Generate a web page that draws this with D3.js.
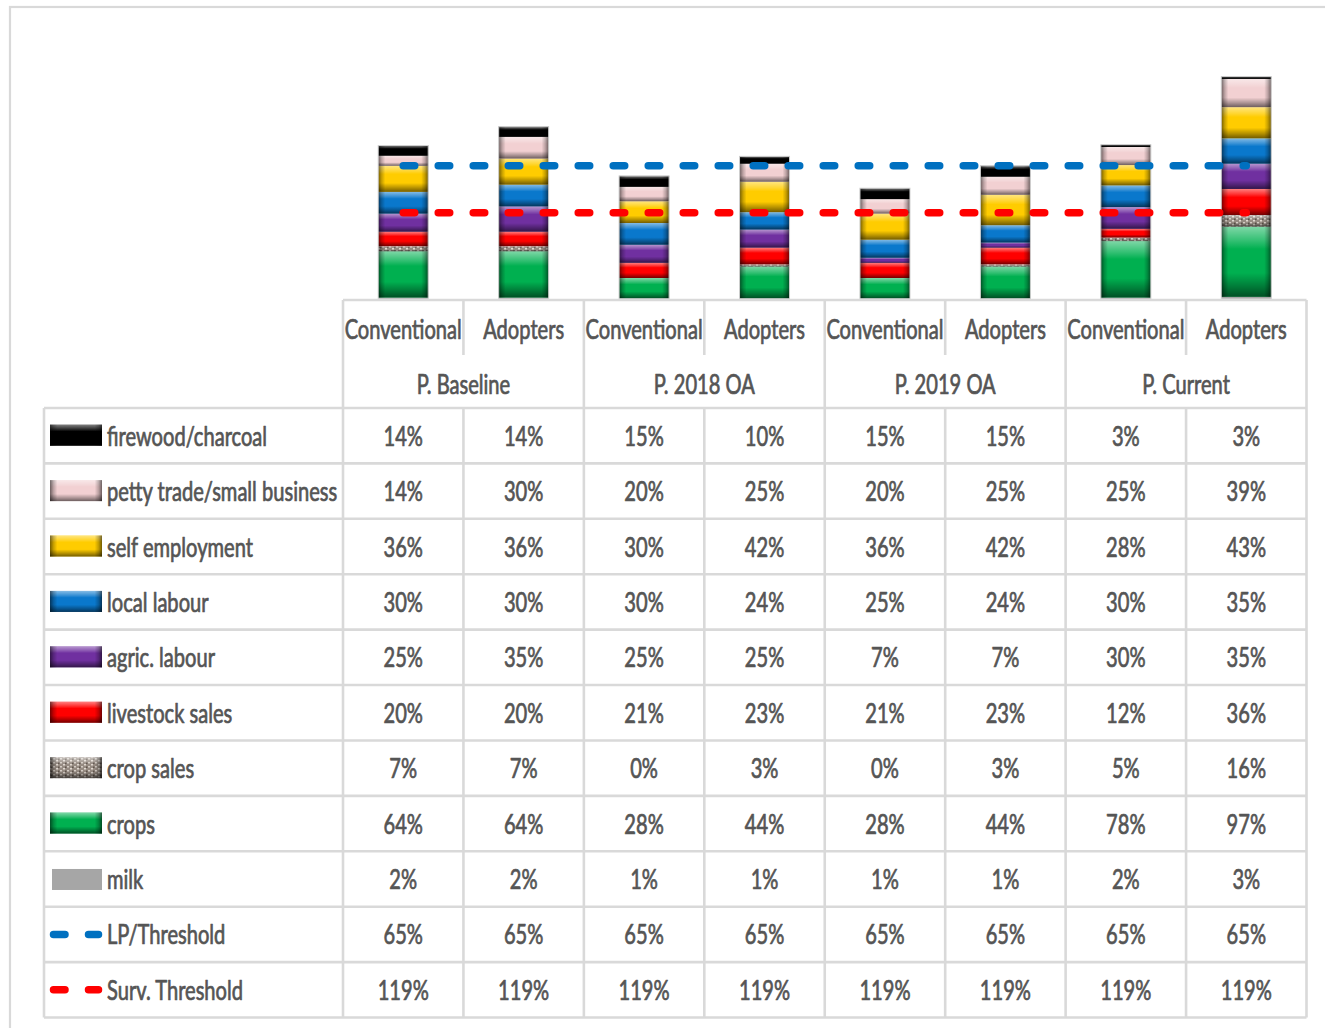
<!DOCTYPE html>
<html>
<head>
<meta charset="utf-8">
<script src="https://cdn.jsdelivr.net/npm/d3@7/dist/d3.min.js"></script>
<style>
  html, body { margin: 0; padding: 0; background: #fff; }
  svg { display: block; }
</style>
</head>
<body>
<svg id="chart" width="1325" height="1028"></svg>
<script>
// ---- data ----------------------------------------------------------
const periods = ["P. Baseline", "P. 2018 OA", "P. 2019 OA", "P. Current"];
const farmerTypes = ["Conventional", "Adopters"];

const firewood       = [14, 14, 15, 10, 15, 15,  3,  3];
const pettyTrade     = [14, 30, 20, 25, 20, 25, 25, 39];
const selfEmployment = [36, 36, 30, 42, 36, 42, 28, 43];
const localLabour    = [30, 30, 30, 24, 25, 24, 30, 35];
const agricLabour    = [25, 35, 25, 25,  7,  7, 30, 35];
const livestockSales = [20, 20, 21, 23, 21, 23, 12, 36];
const cropSales      = [ 7,  7,  0,  3,  0,  3,  5, 16];
const crops          = [64, 64, 28, 44, 28, 44, 78, 97];
const milk           = [ 2,  2,  1,  1,  1,  1,  2,  3];
const lpThreshold    = [65, 65, 65, 65, 65, 65, 65, 65];
const survThreshold  = [119, 119, 119, 119, 119, 119, 119, 119];

// income sources, bottom of the stack first
const sources = [
  { key: "milk",                       values: milk,           color: "#a6a6a6", flat: true },
  { key: "crops",                      values: crops,          color: "#00b050" },
  { key: "crop sales",                 values: cropSales,      color: "url(#speckle)" },
  { key: "livestock sales",            values: livestockSales, color: "#ff0000" },
  { key: "agric. labour",              values: agricLabour,    color: "#7030a0" },
  { key: "local labour",               values: localLabour,    color: "#0a78cc" },
  { key: "self employment",            values: selfEmployment, color: "#ffcc00" },
  { key: "petty trade/small business", values: pettyTrade,     color: "#f2d0d2" },
  { key: "firewood/charcoal",          values: firewood,       color: "#000000" }
];
const thresholds = [
  { key: "LP/Threshold",    values: lpThreshold,   color: "#0070c0" },
  { key: "Surv. Threshold", values: survThreshold, color: "#ff0000" }
];

// ---- layout --------------------------------------------------------
const svg = d3.select("#chart");
const textColor = "#555555";
const gridColor = "#d9d9d9";
const fontFamily = "Lato, 'Open Sans', sans-serif";
const fontSize = 27;
const squeeze = 0.745;   // horizontal compression of the narrow table font

const tableLeft = 44, tableSplit = 343, tableRight = 1306.5;
const headTop = 300, headMid = 355, headBottom = 408, tableBottom = 1017.5;
const plotBottom = 299;

const cols = d3.range(8);
const x = d3.scaleBand().domain(cols).range([tableSplit, tableRight]).paddingInner(0).paddingOuter(0);
const y = d3.scaleLinear().domain([0, 320]).range([plotBottom, plotBottom - 320 * 0.724]);
const barWidth = 50;

// outer chart frame
svg.append("rect")
  .attr("x", 10).attr("y", 7).attr("width", 1340).attr("height", 1040)
  .attr("fill", "none").attr("stroke", gridColor).attr("stroke-width", 2.2);

// ---- shading definitions -------------------------------------------
const defs = svg.append("defs");
const vBevel = defs.append("linearGradient").attr("id", "bevelV")
  .attr("x1", 0).attr("y1", 0).attr("x2", 0).attr("y2", 1);
[[0, "#fff", 0.5], [0.2, "#fff", 0.2], [0.32, "#fff", 0], [0.66, "#000", 0],
 [0.84, "#000", 0.28], [1, "#000", 0.55]].forEach(([o, c, a]) =>
  vBevel.append("stop").attr("offset", o).attr("stop-color", c).attr("stop-opacity", a));
const hBevel = defs.append("linearGradient").attr("id", "bevelH")
  .attr("x1", 0).attr("y1", 0).attr("x2", 1).attr("y2", 0);
[[0, 0.55], [0.07, 0.22], [0.14, 0], [0.86, 0], [0.93, 0.22], [1, 0.55]].forEach(([o, a]) =>
  hBevel.append("stop").attr("offset", o).attr("stop-color", "#000").attr("stop-opacity", a));

// speckled texture for crop sales
const speckle = defs.append("pattern").attr("id", "speckle")
  .attr("patternUnits", "userSpaceOnUse").attr("width", 7).attr("height", 4);
speckle.append("rect").attr("width", 7).attr("height", 4).attr("fill", "#968b82");
speckle.append("rect").attr("x", 0).attr("y", 0).attr("width", 2).attr("height", 1.5).attr("fill", "#e0d8d0");
speckle.append("rect").attr("x", 4).attr("y", 2).attr("width", 2).attr("height", 1.5).attr("fill", "#d4ccc4");
speckle.append("rect").attr("x", 2).attr("y", 2.5).attr("width", 1.5).attr("height", 1.5).attr("fill", "#5e544c");

function bevelBox(g, x0, y0, w, h, fill, flat) {
  g.append("rect").attr("x", x0).attr("y", y0).attr("width", w).attr("height", h).attr("fill", fill);
  if (flat) return;
  g.append("rect").attr("x", x0).attr("y", y0).attr("width", w).attr("height", h).attr("fill", "url(#bevelV)");
  g.append("rect").attr("x", x0).attr("y", y0).attr("width", w).attr("height", h).attr("fill", "url(#bevelH)");
}

// ---- stacked bars --------------------------------------------------
const rows = cols.map(i => {
  const r = {};
  sources.forEach(s => r[s.key] = s.values[i]);
  return r;
});
const stack = d3.stack().keys(sources.map(s => s.key))(rows);

const barsG = svg.append("g");
cols.forEach(i => {
  const colG = barsG.append("g");
  const cx = x(i) + x.bandwidth() / 2;
  stack.forEach((layer, k) => {
    const [v0, v1] = layer[i];
    if (v1 - v0 <= 0) return;
    const top = y(v1), h = y(v0) - y(v1);
    bevelBox(colG, cx - barWidth / 2, top, barWidth, h, sources[k].color, sources[k].flat);
  });
  // faint outline round the whole column
  const total = stack[stack.length - 1][i][1];
  colG.append("rect").attr("x", cx - barWidth / 2).attr("y", y(total))
    .attr("width", barWidth).attr("height", y(0) - y(total))
    .attr("fill", "none").attr("stroke", "#cfcfcf").attr("stroke-width", 1);
});

// ---- threshold lines (stacked: survival first, LP on top) ---------
const survTop = cols.map(i => survThreshold[i]);
const lpTop = cols.map(i => survThreshold[i] + lpThreshold[i]);
const line = d3.line().x((d, i) => x(i) + x.bandwidth() / 2).y(d => y(d));
const dash = "11.5 23.5";
svg.append("path").datum(survTop).attr("d", line)
  .attr("fill", "none").attr("stroke", thresholds[1].color).attr("stroke-width", 7.5)
  .attr("stroke-linecap", "round").attr("stroke-dasharray", dash);
svg.append("path").datum(lpTop).attr("d", line)
  .attr("fill", "none").attr("stroke", thresholds[0].color).attr("stroke-width", 7.5)
  .attr("stroke-linecap", "round").attr("stroke-dasharray", dash);

// ---- data table ----------------------------------------------------
const tableRows = sources.slice().reverse().map(s => ({ key: s.key, values: s.values, color: s.color, flat: s.flat, kind: "bar" }))
  .concat(thresholds.map(t => ({ key: t.key, values: t.values, color: t.color, kind: "line" })));
const rowY = d3.scaleBand().domain(tableRows.map(r => r.key)).range([headBottom, tableBottom]);

const grid = svg.append("g").attr("stroke", gridColor).attr("stroke-width", 2.6).attr("fill", "none");
grid.append("line").attr("x1", tableSplit).attr("x2", tableRight).attr("y1", headTop).attr("y2", headTop);
grid.append("line").attr("x1", tableLeft).attr("x2", tableRight).attr("y1", headBottom).attr("y2", headBottom);
tableRows.forEach(r => {
  const yb = rowY(r.key) + rowY.bandwidth();
  grid.append("line").attr("x1", tableLeft).attr("x2", tableRight).attr("y1", yb).attr("y2", yb);
});
grid.append("line").attr("x1", tableLeft).attr("x2", tableLeft).attr("y1", headBottom).attr("y2", tableBottom);
cols.forEach(i => {
  const xl = x(i);
  if (i % 2 === 0) {
    grid.append("line").attr("x1", xl).attr("x2", xl).attr("y1", headTop).attr("y2", tableBottom);
  } else {
    grid.append("line").attr("x1", xl).attr("x2", xl).attr("y1", headTop).attr("y2", headMid);
    grid.append("line").attr("x1", xl).attr("x2", xl).attr("y1", headBottom).attr("y2", tableBottom);
  }
});
grid.append("line").attr("x1", tableRight).attr("x2", tableRight).attr("y1", headTop).attr("y2", tableBottom);

function label(g, px, py, txt, anchor) {
  g.append("g").attr("transform", `translate(${px},${py}) scale(${squeeze},1)`)
    .append("text").attr("x", 0).attr("y", 0)
    .attr("text-anchor", anchor || "middle")
    .attr("font-family", fontFamily).attr("font-size", fontSize)
    .attr("fill", textColor)
    .attr("stroke", textColor).attr("stroke-width", 0.75).attr("stroke-linejoin", "round")
    .text(txt);
}

const textG = svg.append("g");
// column headers
cols.forEach(i => label(textG, x(i) + x.bandwidth() / 2, 339, farmerTypes[i % 2]));
periods.forEach((p, j) => label(textG, x(2 * j) + x.bandwidth(), 394, p));

// cell values and legend keys
tableRows.forEach(r => {
  const cy = rowY(r.key) + rowY.bandwidth() / 2;
  r.values.forEach((v, i) => label(textG, x(i) + x.bandwidth() / 2, cy + 10, v + "%"));
  label(textG, 107, cy + 10, r.key, "start");
  if (r.kind === "bar") {
    if (r.flat) bevelBox(textG, 52, cy - 10, 50, 21, r.color, true);
    else bevelBox(textG, 50, cy - 11, 52, 21, r.color, false);
  } else {
    textG.append("line").attr("x1", 53.5).attr("x2", 98.5).attr("y1", cy).attr("y2", cy)
      .attr("stroke", r.color).attr("stroke-width", 7.5).attr("stroke-linecap", "round")
      .attr("stroke-dasharray", "11.5 23.5");
  }
});
</script>
</body>
</html>
